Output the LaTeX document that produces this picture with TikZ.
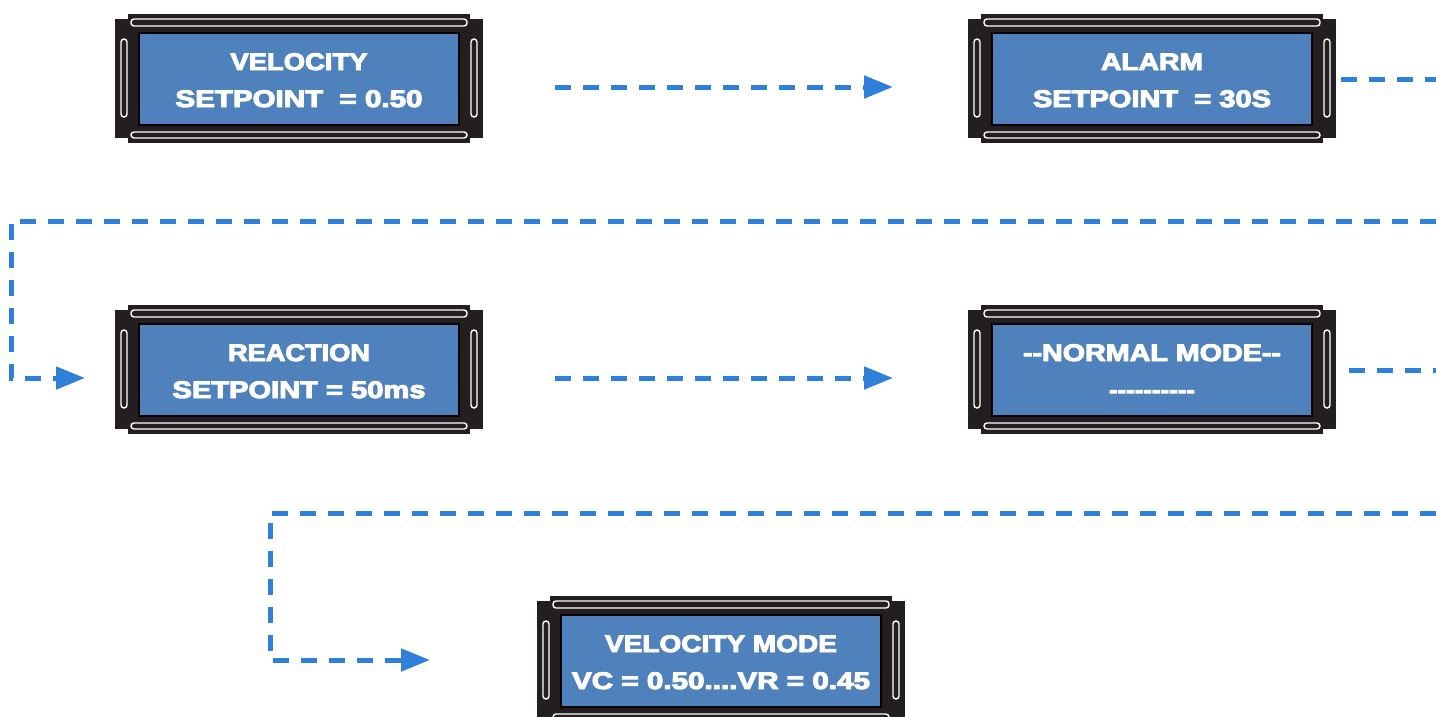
\documentclass[tikz,border=0pt]{standalone}
\usepackage{fontspec}
\usepackage{graphicx}
\usetikzlibrary{arrows.meta}
\newfontfamily\lcdfont{Liberation Sans Bold}[FakeBold=4]
\definecolor{lcdblue}{RGB}{79,129,189}
\definecolor{lcdblack}{RGB}{35,31,32}
\definecolor{flowblue}{RGB}{46,128,216}
\newcommand\hy{\mbox{-}}
\newcommand\lcdline[2]{\resizebox{#1pt}{\height}{\lcdfont\fontsize{24}{24}\selectfont #2}}
\newcommand\lcdpanel[6]{%
  \begin{scope}[shift={(#2,#3)}]
    \fill[lcdblack] (-171,-65) rectangle (171,64);
    \fill[lcdblack] (-184,-60) rectangle (184,59);
    \draw[slot] (-168,-60) rectangle (168,-53);
    \draw[slot] (-168,53) rectangle (168,59);
    \draw[slot] (-178,-40) rectangle (-172,38);
    \draw[slot] (172,-40) rectangle (178,38);
    \node[screen] (#1) at (0,0) {};
    \node[lcdtext] (#1-l1) at (0,-9) {#4};
    \node[lcdtext] (#1-l2) at (0,28) {#5};
  \end{scope}}
\begin{document}
\begin{tikzpicture}[x=1pt,y=-1pt,
  slot/.style={draw=white,fill=lcdblack,line width=1.4pt,rounded corners=3pt},
  screen/.style={draw=black,fill=lcdblue,line width=1.5pt,minimum width=320pt,minimum height=92pt,inner sep=0pt,outer sep=0pt},
  lcdtext/.style={anchor=base,text=white,inner sep=0pt},
  flow/.style={draw=flowblue,line width=5pt,dash pattern=on 16pt off 12pt},
  flowarrow/.style={flow,-{Triangle[length=29pt,width=22pt]}}]
\useasboundingbox (0,0) rectangle (1436,716);
\fill[white] (0,0) rectangle (1436,716);

\lcdpanel{p1}{299}{79}{\lcdline{137}{VELOCITY}}{\lcdline{247}{SETPOINT\ \ = 0.50}}{}
\lcdpanel{p2}{1152}{79}{\lcdline{102}{ALARM}}{\lcdline{238}{SETPOINT\ \ = 30S}}{}
\lcdpanel{p3}{299}{370}{\lcdline{142}{REACTION}}{\lcdline{253}{SETPOINT = 50ms}}{}
\lcdpanel{p4}{1152}{370}{\lcdline{258}{\hy\hy NORMAL MODE\hy\hy}}{\lcdline{86}{\hy\hy\hy\hy\hy\hy\hy\hy\hy\hy}}{}
\lcdpanel{p5}{721}{661}{\lcdline{232}{VELOCITY MODE}}{\lcdline{298}{VC = 0.50....VR = 0.45}}{}

\coordinate (a1s) at (555,87);
\coordinate (a1e) at (893,87);
\coordinate (a2s) at (1341,79);
\coordinate (a2e) at (1436,79);
\coordinate (a3s) at (1436,221);
\coordinate (a3c1) at (11,221);
\coordinate (a3c2) at (11,378);
\coordinate (a3e) at (85,378);
\coordinate (a4s) at (555,378);
\coordinate (a4e) at (893,378);
\coordinate (a5s) at (1349,370);
\coordinate (a5e) at (1436,370);
\coordinate (a6s) at (1436,513);
\coordinate (a6c1) at (270,513);
\coordinate (a6c2) at (270,660);
\coordinate (a6e) at (430,660);

\draw[flowarrow] (a1s) -- (a1e);
\draw[flow] (a2s) -- (a2e);
\draw[flowarrow] (a3s) -- (a3c1) -- (a3c2) -- (a3e);
\draw[flowarrow] (a4s) -- (a4e);
\draw[flow] (a5s) -- (a5e);
\draw[flowarrow] (a6s) -- (a6c1) -- (a6c2) -- (a6e);
\end{tikzpicture}
\end{document}
